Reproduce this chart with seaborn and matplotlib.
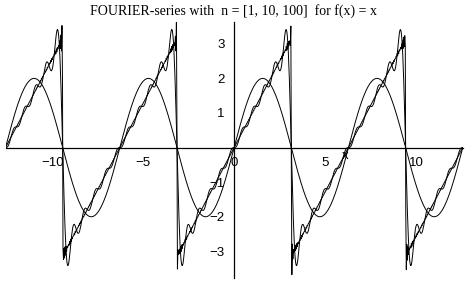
import numpy as np
import pandas as pd
import matplotlib
matplotlib.use("Agg")
import matplotlib.pyplot as plt
import seaborn as sns

# Chart content
title = "FOURIER-series with  n = [1, 10, 100]  for f(x) = x"
n_terms = [1, 10, 100]
x_min, x_max = -4 * np.pi, 4 * np.pi
x_major_ticks = [-10, -5, 0, 5, 10]
y_major_ticks = [-3, -2, -1, 1, 2, 3]

x = np.linspace(x_min, x_max, 900)
frames = []
for n in n_terms:
    k = np.arange(1, n + 1)[:, None]
    s = (2 * (-1.0) ** (k + 1) * np.sin(k * x[None, :]) / k).sum(axis=0)
    frames.append(pd.DataFrame({"x": x, "y": s, "n": n}))
df = pd.concat(frames, ignore_index=True)

sns.set_style("white")
plt.rcParams["font.family"] = ["Liberation Sans", "DejaVu Sans"]

fig = plt.figure(figsize=(4.68, 2.83), dpi=100)
ax = fig.add_axes([0.0118, 0.0177, 0.977, 0.9046])

for n in n_terms:
    sns.lineplot(data=df[df["n"] == n], x="x", y="y", ax=ax, color="black",
                 linewidth=0.7, sort=False, estimator=None, legend=False)

ax.set_xlim(x_min, x_max)
ax.set_ylim(-3.77, 3.63)

for side in ["top", "right"]:
    ax.spines[side].set_visible(False)
ax.spines["left"].set_position(("data", 0))
ax.spines["bottom"].set_position(("data", 0))
for side in ["left", "bottom"]:
    ax.spines[side].set_color("black")
    ax.spines[side].set_linewidth(0.9)

ax.set_xticks(x_major_ticks)
ax.set_xticklabels([("\u2212" + str(-t)) if t < 0 else str(t) for t in x_major_ticks])
ax.set_xticks(np.arange(-12, 13, 1), minor=True)
ax.set_yticks(y_major_ticks)
ax.set_yticklabels([("\u2212" + str(-t)) if t < 0 else str(t) for t in y_major_ticks])
ax.set_yticks(np.arange(-3.5, 3.6, 0.5), minor=True)

ax.tick_params(axis="x", which="major", direction="out", length=5, width=0.8,
               labelsize=9.5, pad=2, colors="black")
ax.tick_params(axis="x", which="minor", direction="out", length=3, width=0.8)
ax.tick_params(axis="y", which="major", direction="out", length=5, width=0.8,
               labelsize=9.5, pad=2, colors="black")
ax.tick_params(axis="y", which="minor", direction="out", length=3, width=0.8)
ax.set_xlabel("")
ax.set_ylabel("")
ax.grid(False)

ax.text(6.1, -0.08, "x", fontsize=9.5, ha="center", va="top", color="black")

fig.text(0.5, 0.985, title, ha="center", va="top", fontsize=10,
         family=["Liberation Serif", "DejaVu Serif"], color="black")

fig.savefig("out.png", dpi=100, facecolor="white")
